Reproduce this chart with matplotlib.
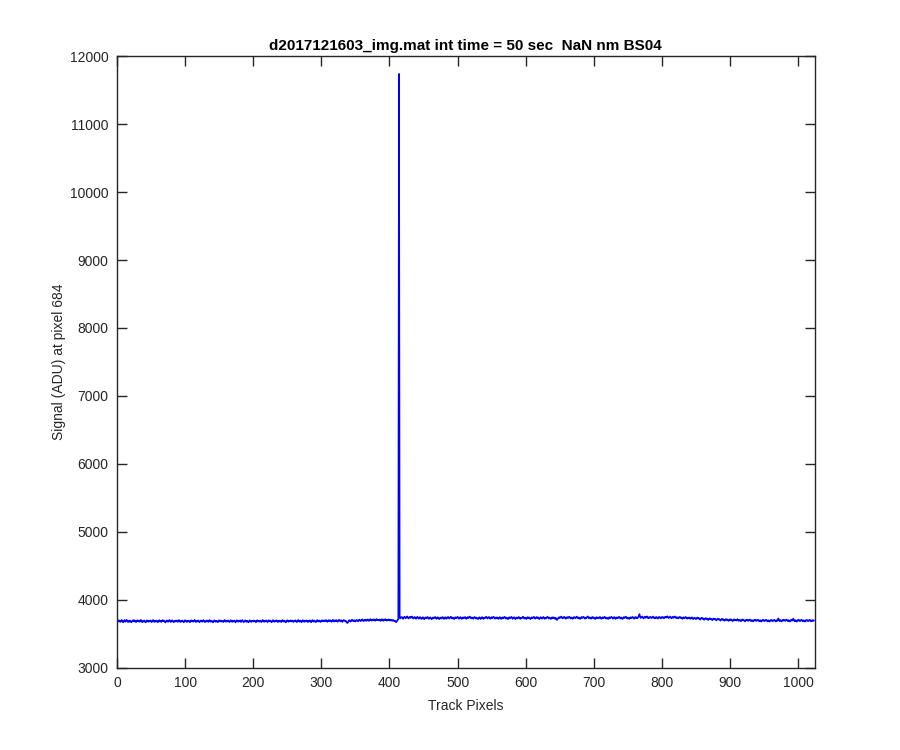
import numpy as np
import matplotlib
matplotlib.use("Agg")
import matplotlib.pyplot as plt

plt.rcParams['font.family'] = ['Liberation Sans', 'DejaVu Sans']

title_text = "d2017121603_img.mat int time = 50 sec  NaN nm BS04"
x_label = "Track Pixels"
y_label = "Signal (ADU) at pixel 684"
x_ticks = [0, 100, 200, 300, 400, 500, 600, 700, 800, 900, 1000]
y_ticks = [3000, 4000, 5000, 6000, 7000, 8000, 9000, 10000, 11000, 12000]

signal = [
    3668,3684,3695,3676,3690,3671,3688,3699,3680,3665,3683,3697,3674,3689,3703,3681,
    3670,3686,3672,3692,3680,3664,3678,3694,3685,3698,3676,3688,3669,3684,3696,3679,
    3691,3673,3687,3701,3682,3667,3685,3676,3693,3679,3664,3681,3695,3686,3672,3689,
    3677,3694,3680,3668,3686,3699,3683,3671,3689,3675,3692,3684,3666,3681,3697,3678,
    3687,3671,3685,3698,3679,3692,3676,3663,3680,3694,3686,3672,3688,3700,3683,3669,
    3684,3696,3681,3667,3683,3675,3691,3679,3693,3672,3686,3699,3680,3670,3687,3677,
    3693,3678,3665,3682,3697,3685,3671,3688,3676,3691,3681,3666,3684,3695,3679,3690,
    3674,3688,3701,3682,3669,3685,3678,3694,3683,3667,3680,3692,3686,3673,3689,3698,
    3681,3668,3684,3677,3693,3685,3670,3687,3699,3680,3674,3690,3678,3664,3683,3695,
    3686,3672,3689,3681,3666,3684,3696,3679,3692,3675,3688,3683,3669,3686,3700,3682,
    3673,3690,3678,3694,3683,3668,3681,3697,3686,3671,3689,3676,3692,3680,3665,3684,
    3696,3681,3674,3688,3679,3693,3670,3685,3698,3683,3667,3680,3694,3687,3672,3689,
    3678,3664,3682,3695,3684,3671,3687,3680,3693,3676,3690,3682,3666,3685,3697,3679,
    3688,3674,3691,3683,3669,3686,3700,3681,3673,3689,3677,3694,3684,3668,3682,3696,
    3680,3692,3677,3665,3684,3698,3685,3672,3688,3679,3695,3681,3670,3687,3676,3691,
    3683,3669,3686,3699,3681,3674,3690,3678,3664,3683,3696,3687,3673,3689,3680,3694,
    3677,3691,3684,3670,3687,3679,3695,3682,3668,3685,3699,3680,3675,3692,3683,3667,
    3686,3697,3681,3673,3690,3678,3693,3684,3670,3688,3676,3695,3682,3666,3684,3698,
    3687,3674,3691,3680,3668,3685,3699,3683,3676,3692,3681,3670,3689,3695,3679,3688,
    3693,3679,3686,3700,3683,3672,3690,3697,3681,3694,3686,3673,3689,3702,3684,3677,
    3695,3682,3698,3687,3674,3691,3703,3686,3679,3696,3684,3671,3689,3700,3692,3680,
    3686,3668,3655,3662,3684,3697,3688,3675,3692,3704,3689,3682,3698,3686,3677,3694,
    3701,3688,3679,3697,3706,3690,3683,3699,3710,3693,3684,3700,3691,3705,3687,3698,
    3708,3692,3686,3703,3712,3697,3689,3705,3694,3710,3699,3688,3704,3713,3696,3702,
    3693,3707,3698,3686,3703,3711,3695,3688,3706,3699,3712,3694,3690,3705,3697,3709,
    3700,3691,3704,3696,3687,3700,3693,3682,3690,3675,3668,3684,3699,3712,11740,3736,
    3722,3738,3745,3729,3716,3733,3749,3735,3724,3741,3752,3734,3721,3737,3746,3730,
    3742,3751,3733,3720,3736,3744,3728,3717,3734,3747,3731,3719,3735,3742,3726,3714,
    3730,3741,3724,3711,3727,3738,3722,3735,3744,3728,3715,3731,3739,3723,3710,3726,
    3737,3721,3734,3745,3729,3716,3732,3740,3724,3712,3728,3736,3720,3733,3743,3727,
    3714,3730,3741,3725,3718,3734,3745,3731,3719,3736,3748,3732,3721,3737,3726,3713,
    3729,3740,3724,3735,3746,3730,3717,3733,3742,3727,3715,3731,3739,3722,3734,3744,
    3728,3716,3732,3743,3726,3738,3750,3735,3722,3737,3729,3718,3733,3745,3731,3719,
    3735,3724,3712,3728,3740,3726,3714,3731,3742,3727,3716,3734,3725,3737,3748,3732,
    3720,3736,3744,3729,3717,3733,3741,3725,3738,3747,3730,3718,3734,3723,3739,3728,
    3715,3731,3742,3727,3714,3730,3738,3722,3736,3746,3731,3719,3735,3726,3711,3728,
    3740,3724,3736,3745,3729,3717,3733,3741,3725,3713,3729,3738,3722,3734,3744,3728,
    3716,3732,3723,3737,3749,3733,3720,3736,3727,3714,3730,3742,3726,3738,3724,3712,
    3728,3739,3725,3736,3746,3730,3718,3734,3743,3727,3739,3724,3713,3729,3741,3731,
    3719,3735,3744,3728,3716,3732,3723,3737,3748,3733,3721,3736,3726,3714,3730,3740,
    3724,3738,3729,3717,3733,3709,3701,3716,3731,3742,3727,3739,3750,3735,3724,3740,
    3733,3745,3729,3718,3734,3742,3727,3739,3748,3732,3721,3737,3728,3716,3731,3743,
    3736,3724,3740,3749,3733,3722,3738,3727,3715,3731,3744,3729,3737,3746,3730,3719,
    3735,3726,3741,3752,3736,3723,3739,3730,3717,3733,3744,3728,3738,3725,3713,3730,
    3741,3727,3736,3722,3734,3745,3729,3717,3733,3740,3724,3736,3747,3731,3720,3735,
    3726,3714,3730,3741,3725,3737,3746,3732,3719,3734,3743,3728,3716,3731,3739,3724,
    3736,3747,3733,3721,3737,3726,3714,3730,3742,3728,3738,3749,3732,3720,3735,3727,
    3715,3731,3740,3724,3736,3745,3730,3718,3734,3743,3728,3738,3726,3740,3752,3785,
    3745,3729,3740,3751,3735,3723,3739,3747,3731,3742,3753,3736,3725,3740,3732,3745,
    3737,3726,3741,3750,3734,3723,3738,3729,3744,3731,3720,3736,3746,3733,3725,3740,
    3731,3745,3736,3724,3740,3748,3733,3742,3754,3738,3727,3741,3750,3735,3724,3739,
    3746,3731,3740,3752,3737,3726,3741,3733,3722,3737,3745,3730,3739,3727,3716,3732,
    3740,3725,3735,3744,3728,3717,3733,3724,3738,3726,3715,3731,3739,3723,3712,3728,
    3734,3722,3711,3727,3736,3720,3729,3716,3705,3721,3732,3718,3726,3712,3702,3719,
    3727,3714,3723,3710,3699,3716,3725,3711,3720,3707,3696,3713,3722,3709,3716,3704,
    3693,3710,3719,3705,3714,3701,3690,3707,3716,3702,3711,3698,3688,3704,3713,3699,
    3708,3695,3686,3702,3711,3697,3706,3693,3683,3700,3709,3695,3704,3691,3701,3712,
    3697,3686,3703,3694,3681,3698,3708,3693,3702,3689,3679,3696,3705,3691,3700,3687,
    3697,3707,3692,3682,3699,3689,3678,3695,3704,3690,3699,3686,3695,3705,3690,3680,
    3697,3687,3676,3693,3702,3688,3697,3684,3694,3704,3689,3679,3696,3686,3675,3692,
    3701,3687,3696,3683,3693,3703,3688,3678,3695,3685,3700,3722,3694,3682,3699,3689,
    3678,3695,3704,3690,3699,3686,3696,3706,3691,3681,3698,3688,3677,3694,3703,3689,
    3705,3720,3692,3680,3697,3687,3676,3693,3702,3688,3697,3684,3694,3704,3689,3679,
    3696,3686,3675,3692,3701,3687,3696,3683,3693,3703,3688,3678,3695,3685,3698,3690,
]

pixels = np.arange(len(signal))

fig = plt.figure(figsize=(9, 7.5), dpi=100)
ax = fig.add_axes([0.13, 0.11, 0.775, 0.815])
ax.plot(pixels, signal, color=(0, 0, 1), linewidth=1.2)

ax.set_xlim(0, 1024)
ax.set_ylim(3000, 12000)
ax.set_xticks(x_ticks)
ax.set_yticks(y_ticks)

axis_color = (0.15, 0.15, 0.15)
for sp in ax.spines.values():
    sp.set_color(axis_color)
    sp.set_linewidth(1.0)
ax.tick_params(direction='in', length=7, width=1.0, colors=axis_color,
               top=True, right=True, labelsize=10, pad=6)
for lbl in ax.get_xticklabels() + ax.get_yticklabels():
    lbl.set_color(axis_color)

ax.set_title(title_text, fontsize=11, fontweight='bold', color='black', pad=4.8)
ax.set_xlabel(x_label, fontsize=10, color=axis_color, labelpad=6.5)
ax.set_ylabel(y_label, fontsize=10, color=axis_color, labelpad=3)

fig.savefig("out.png", dpi=100, facecolor='white')
